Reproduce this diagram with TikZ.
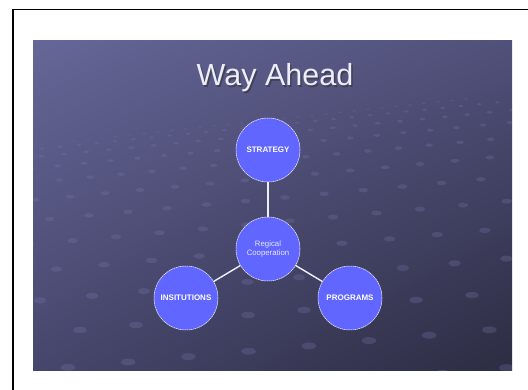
\documentclass[tikz,border=0pt]{standalone}
\usepackage{fontspec}
\setmainfont{Liberation Sans}
\usetikzlibrary{shadings}
\definecolor{bgUL}{RGB}{102,102,152}
\definecolor{bgUR}{RGB}{80,80,122}
\definecolor{bgLL}{RGB}{70,70,108}
\definecolor{bgLR}{RGB}{44,44,66}
\definecolor{circfill}{RGB}{96,102,255}
\definecolor{titlecol}{RGB}{236,236,250}
\definecolor{dotcol}{RGB}{120,122,175}
\begin{document}
\begin{tikzpicture}[x=1pt,y=-1pt,
  hub/.style={circle, fill=circfill, draw=white, dashed, dash pattern=on 1.5pt off 0.6pt, line width=0.5pt, minimum size=64pt, inner sep=0pt, text=white, font=\fontsize{8}{9}\selectfont\bfseries, align=center},
  link/.style={draw=white!90!circfill, line width=1.4pt}]
\useasboundingbox (0,0) rectangle (528,390);
\fill[white] (0,0) rectangle (528,390);
\begin{scope}
\clip (0,0) rectangle (528,390);
\draw[black, line width=1.8pt] (13,9.5) rectangle (540,400);
\end{scope}
% slide background
\shade[upper left=bgUL, upper right=bgUR, lower left=bgLL, lower right=bgLR] (33,41) rectangle (512,371);
\begin{scope}
\clip (33,41) rectangle (512,371);
\foreach \j in {0,...,12}{
  \pgfmathsetmacro{\yy}{120+\j*\j*1.55+\j*3}
  \pgfmathsetmacro{\sc}{0.35+\j*0.1}
  \foreach \i in {-14,...,14}{
    \pgfmathsetmacro{\xx}{270+\i*(14+\j*4.2)+\j*9}
    \pgfmathsetmacro{\yd}{\yy-\i*(1.5+\j*0.35)}
    \fill[dotcol, opacity=0.28] (\xx,\yd) ellipse ({5*\sc} and {2.4*\sc});
  }
}
\end{scope}
% title
\node[text=black!80, opacity=0.6, font=\fontsize{30.5}{34}\selectfont] at (276.5,79.5) {Way Ahead};
\node (title) [text=titlecol, font=\fontsize{30.5}{34}\selectfont] at (275,78) {Way Ahead};
% circles
\node[hub] (strat) at (268,150) {STRATEGY};
\node[hub, font=\fontsize{7.8}{9}\selectfont, text=white!85!circfill] (center) at (268,249) {Regical\\Cooperation};
\node[hub] (inst) at (186,298) {INSITUTIONS};
\node[hub] (prog) at (350,298) {PROGRAMS};
\draw[link] (strat) -- (center);
\draw[link] (center) -- (inst);
\draw[link] (center) -- (prog);
\end{tikzpicture}
\end{document}
